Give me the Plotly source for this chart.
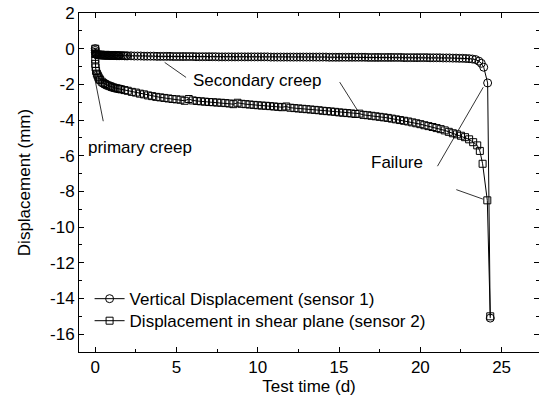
import plotly.graph_objects as go

# Vertical displacement (sensor 1) - circles
t_vert = [0, 0, 0, 0.02, 0.04, 0.06, 0.08, 0.1, 0.15, 0.2, 0.25, 0.3, 0.35, 0.4, 0.45,
          0.5, 0.55, 0.6, 0.65, 0.7, 0.75, 0.8, 0.85, 0.9, 0.95, 1.0, 1.05, 1.1, 1.15,
          1.2, 1.25, 1.3, 1.35, 1.4, 1.45, 1.5, 1.6, 1.7, 1.8, 1.9,
          2.0, 2.2, 2.4, 2.6, 2.8, 3.0, 3.2, 3.4, 3.6, 3.8,
          4.0, 4.2, 4.4, 4.6, 4.8, 5.0, 5.2, 5.4, 5.6, 5.8,
          6.0, 6.2, 6.4, 6.6, 6.8, 7.0, 7.2, 7.4, 7.6, 7.8,
          8.0, 8.2, 8.4, 8.6, 8.8, 9.0, 9.2, 9.4, 9.6, 9.8,
          10.0, 10.2, 10.4, 10.6, 10.8, 11.0, 11.2, 11.4, 11.6, 11.8,
          12.0, 12.2, 12.4, 12.6, 12.8, 13.0, 13.2, 13.4, 13.6, 13.8,
          14.0, 14.2, 14.4, 14.6, 14.8, 15.0, 15.2, 15.4, 15.6, 15.8,
          16.0, 16.2, 16.4, 16.6, 16.8, 17.0, 17.2, 17.4, 17.6, 17.8,
          18.0, 18.2, 18.4, 18.6, 18.8, 19.0, 19.2, 19.4, 19.6, 19.8,
          20.0, 20.2, 20.4, 20.6, 20.8, 21.0, 21.2, 21.4, 21.6, 21.8,
          22.0, 22.2, 22.4, 22.6, 22.8, 23.0, 23.2, 23.4,
          23.6, 23.75, 23.9, 24.14, 24.3]
d_vert = [0.0, -0.1, -0.2, -0.27, -0.3, -0.32, -0.33, -0.33, -0.34, -0.34, -0.35, -0.35, -0.35, -0.36, -0.36,
          -0.36, -0.36, -0.37, -0.37, -0.37, -0.37, -0.37, -0.37, -0.38, -0.38, -0.38, -0.38, -0.38, -0.38,
          -0.38, -0.38, -0.39, -0.39, -0.39, -0.39, -0.39, -0.39, -0.39, -0.40, -0.40,
          -0.40, -0.40, -0.41, -0.41, -0.41, -0.42, -0.42, -0.42, -0.42, -0.43,
          -0.43, -0.43, -0.43, -0.43, -0.44, -0.44, -0.44, -0.44, -0.44, -0.44,
          -0.44, -0.45, -0.45, -0.45, -0.45, -0.45, -0.45, -0.45, -0.46, -0.46,
          -0.46, -0.46, -0.46, -0.46, -0.46, -0.46, -0.46, -0.46, -0.46, -0.46,
          -0.46, -0.46, -0.46, -0.46, -0.47, -0.47, -0.47, -0.47, -0.47, -0.47,
          -0.47, -0.47, -0.47, -0.47, -0.47, -0.47, -0.47, -0.47, -0.47, -0.47,
          -0.47, -0.47, -0.48, -0.48, -0.48, -0.48, -0.48, -0.48, -0.48, -0.48,
          -0.48, -0.48, -0.48, -0.48, -0.49, -0.49, -0.49, -0.49, -0.49, -0.49,
          -0.49, -0.49, -0.49, -0.49, -0.49, -0.50, -0.50, -0.50, -0.50, -0.50,
          -0.50, -0.50, -0.50, -0.51, -0.51, -0.51, -0.51, -0.52, -0.52, -0.52,
          -0.53, -0.53, -0.54, -0.54, -0.55, -0.56, -0.58, -0.61,
          -0.70, -0.82, -1.04, -1.92, -15.1]

# Displacement in shear plane (sensor 2) - squares
t_shear = [0, 0, 0, 0, 0.02, 0.05, 0.1, 0.15, 0.2, 0.25, 0.3, 0.4, 0.5, 0.6, 0.7,
           0.8, 0.9, 1.0, 1.1, 1.2, 1.3, 1.4, 1.5, 1.6, 1.8, 2.0,
           2.25, 2.5, 2.75, 3.0, 3.25, 3.5, 3.75, 4.0, 4.25, 4.5, 4.75,
           5.0, 5.25, 5.5, 5.75, 6.0, 6.25, 6.5, 6.75, 7.0, 7.25, 7.5, 7.75,
           8.0, 8.25, 8.5, 8.75, 9.0, 9.25, 9.5, 9.75, 10.0, 10.25, 10.5, 10.75,
           11.0, 11.25, 11.5, 11.75, 12.0, 12.25, 12.5, 12.75, 13.0, 13.25, 13.5, 13.75,
           14.0, 14.25, 14.5, 14.75, 15.0, 15.25, 15.5, 15.75, 16.0, 16.25, 16.5, 16.75,
           17.0, 17.25, 17.5, 17.75, 18.0, 18.25, 18.5, 18.75, 19.0, 19.25, 19.5, 19.75,
           20.0, 20.25, 20.5, 20.75, 21.0, 21.25, 21.5, 21.75, 22.0, 22.25, 22.5, 22.75,
           23.0, 23.25, 23.5, 23.66, 23.83, 24.12, 24.3]
d_shear = [0.0, -0.3, -0.6, -0.85, -1.05, -1.25, -1.4, -1.5, -1.6, -1.68, -1.75, -1.85, -1.92, -1.98, -2.03,
           -2.07, -2.1, -2.14, -2.17, -2.2, -2.22, -2.24, -2.26, -2.28, -2.32, -2.36,
           -2.42, -2.46, -2.52, -2.56, -2.62, -2.66, -2.70, -2.73, -2.76, -2.79, -2.82,
           -2.84, -2.86, -2.92, -2.82, -2.90, -2.93, -2.95, -2.97, -2.99, -3.00, -3.02, -3.03,
           -3.05, -3.07, -3.11, -3.03, -3.09, -3.11, -3.13, -3.15, -3.17, -3.19, -3.20, -3.22,
           -3.24, -3.26, -3.28, -3.24, -3.31, -3.33, -3.35, -3.37, -3.39, -3.41, -3.43, -3.45,
           -3.48, -3.50, -3.52, -3.54, -3.57, -3.59, -3.61, -3.63, -3.66, -3.64, -3.71, -3.73,
           -3.76, -3.79, -3.82, -3.85, -3.88, -3.92, -3.96, -4.00, -4.04, -4.08, -4.13, -4.18,
           -4.23, -4.29, -4.34, -4.39, -4.45, -4.51, -4.58, -4.66, -4.74, -4.80, -4.88, -4.96,
           -5.08, -5.24, -5.42, -5.73, -6.45, -8.5, -15.0]

series_names = ["Vertical Displacement (sensor 1)", "Displacement in shear plane (sensor 2)"]
x_ticks = [0, 5, 10, 15, 20, 25]
y_ticks = [2, 0, -2, -4, -6, -8, -10, -12, -14, -16]

FONT = "Arial, 'Liberation Sans', sans-serif"
FS = 17

fig = go.Figure()
fig.add_trace(go.Scatter(
    x=t_vert, y=d_vert, name=series_names[0], mode="lines+markers", legend="legend",
    line=dict(color="black", width=1),
    marker=dict(symbol="circle-open", size=8, color="black", line=dict(width=1)),
))
fig.add_trace(go.Scatter(
    x=t_shear, y=d_shear, name=series_names[1], mode="lines+markers", legend="legend2",
    line=dict(color="black", width=1),
    marker=dict(symbol="square-open", size=7, color="black", line=dict(width=1)),
))

# annotation leader lines (start -> end, data coordinates)
leaders = [
    ((0.51, -4.15), (-0.04, -1.62)),
    ((5.68, -1.67), (4.27, -0.77)),
    ((14.98, -1.79), (16.15, -3.48)),
    ((21.0, -6.67), (23.87, -2.16)),
    ((22.12, -7.87), (23.85, -8.43)),
]
for (sx, sy), (ex, ey) in leaders:
    fig.add_annotation(x=ex, y=ey, ax=sx, ay=sy, xref="x", yref="y", axref="x", ayref="y",
                       text="", showarrow=True, arrowhead=0, arrowwidth=0.8,
                       arrowcolor="black", standoff=0, startstandoff=0)

labels = [("primary creep", 2.75, -5.56), ("Secondary creep", 9.96, -1.8), ("Failure", 18.55, -6.4)]
for txt, lx, ly in labels:
    fig.add_annotation(x=lx, y=ly, xref="x", yref="y", text=txt, showarrow=False,
                       font=dict(family=FONT, size=FS, color="black"))

axis_common = dict(
    showline=True, linecolor="black", linewidth=1, mirror="ticks",
    ticks="inside", ticklen=5, tickwidth=1, tickcolor="black",
    showgrid=False, zeroline=False, automargin=False,
    tickfont=dict(family=FONT, size=FS, color="black"),
)
fig.update_xaxes(range=[-1, 27.3], tickmode="array", tickvals=x_ticks,
                 ticktext=[str(v) for v in x_ticks],
                 title=dict(text="Test time (d)", standoff=2,
                            font=dict(family=FONT, size=FS, color="black")),
                 minor=dict(ticks="inside", ticklen=3, dtick=2.5, tick0=0, tickcolor="black"),
                 **axis_common)
fig.update_yaxes(range=[-17, 2], tickmode="array", tickvals=y_ticks,
                 ticktext=[str(v) for v in y_ticks],
                 title=dict(text="Displacement (mm)", standoff=15,
                            font=dict(family=FONT, size=FS, color="black")),
                 minor=dict(ticks="inside", ticklen=3, dtick=1, tick0=0, tickcolor="black"),
                 **axis_common)

leg_common = dict(x=0.023, xanchor="left", yanchor="middle", bgcolor="rgba(0,0,0,0)",
                  font=dict(family=FONT, size=FS, color="black"), itemwidth=30)
fig.update_layout(
    width=539, height=403,
    margin=dict(l=79, r=0, t=13, b=51),
    paper_bgcolor="white", plot_bgcolor="white",
    font=dict(family=FONT, size=FS, color="black"),
    showlegend=True,
    legend=dict(y=0.156, **leg_common),
    legend2=dict(y=0.091, **leg_common),
)

fig.write_html("out.html")
